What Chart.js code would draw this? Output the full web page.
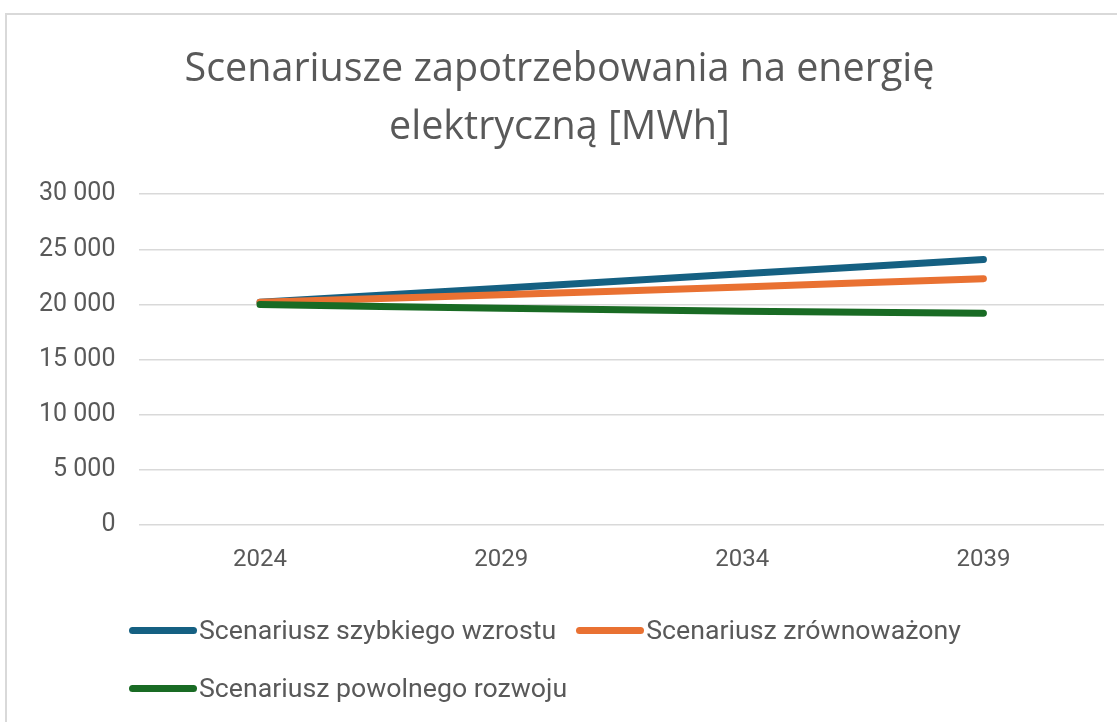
<!DOCTYPE html>
<html>
<head>
<meta charset="utf-8">
<script src="https://cdn.jsdelivr.net/npm/chart.js@4/dist/chart.umd.min.js"></script>
<style>
	body { margin: 0; background: #fff; width: 1117px; height: 722px; overflow: hidden; font-family: Roboto, 'Noto Sans', sans-serif; }
	#frame { position: absolute; left: 5px; top: 13px; width: 1140px; height: 720px; border: 2px solid #d9d9d9; box-sizing: border-box; }
	#wrap { position: absolute; left: 0; top: 0; width: 1128px; height: 590px; }
	#legend { position: absolute; left: 122px; top: 586px; width: 960px; color: #595959; font-size: 26.7px; }
	.item { display: inline-flex; align-items: center; height: 58px; margin-right: 20px; }
	.swatch { width: 68px; height: 7px; border-radius: 4px; margin-right: 2px; }
</style>
</head>
<body>
<div id="frame">
	<div id="wrap"><canvas id="energy-chart"></canvas></div>
	<div id="legend"></div>
</div>
<script>
const years = ['2024', '2029', '2034', '2039']
const seriesNames = ['Scenariusz szybkiego wzrostu', 'Scenariusz zrównoważony', 'Scenariusz powolnego rozwoju']
const fastGrowth = [20200, 21480, 22780, 24080]
const balanced = [20200, 20880, 21580, 22340]
const slowGrowth = [20000, 19650, 19380, 19200]
const colors = ['#156082', '#E97132', '#196B24']

const fmt = v => String(v).replace(/\B(?=(\d{3})+(?!\d))/g, ' ')

const lineChart = id => {
	const values = [fastGrowth, balanced, slowGrowth]
	const datasets = values.map((data, i) => ({
		label: seriesNames[i],
		data: data,
		borderColor: colors[i],
		backgroundColor: colors[i],
		borderWidth: 7,
		borderCapStyle: 'round',
		pointRadius: 0,
		tension: 0.1,
		order: 3 - i
	}))

	new Chart(id, {
		type: 'line',
		data: { labels: years, datasets: datasets },
		options: {
			responsive: true,
			maintainAspectRatio: false,
			animation: false,
			layout: { padding: { left: 8, right: 31, top: 26, bottom: 19 } },
			plugins: {
				legend: { display: false },
				tooltip: { enabled: false },
				title: {
					display: true,
					text: ['Scenariusze zapotrzebowania na energię', 'elektryczną [MWh]'],
					color: '#595959',
					font: { size: 39.5, weight: 'normal', family: 'Open Sans', lineHeight: 1.47 },
					padding: { top: 0, bottom: 37 }
				}
			},
			scales: {
				x: {
					offset: true,
					grid: { display: false },
					border: { display: false },
					ticks: { color: '#595959', font: { size: 24, family: 'Roboto' }, padding: 12 }
				},
				y: {
					min: 0,
					max: 30000,
					border: { display: false },
					grid: { color: '#d9d9d9', lineWidth: 1.5, drawTicks: false },
					ticks: {
						stepSize: 5000,
						color: '#595959',
						font: { size: 25, family: 'Roboto' },
						padding: 24,
						callback: v => fmt(v)
					}
				}
			}
		}
	})

	const legend = document.getElementById('legend')
	seriesNames.forEach((name, i) => {
		const item = document.createElement('span')
		item.className = 'item'
		item.innerHTML = '<span class="swatch" style="background:' + colors[i] + '"></span>' + name
		legend.appendChild(item)
		if (i === 1) legend.appendChild(document.createElement('br'))
	})
}

lineChart('energy-chart')
</script>
</body>
</html>
